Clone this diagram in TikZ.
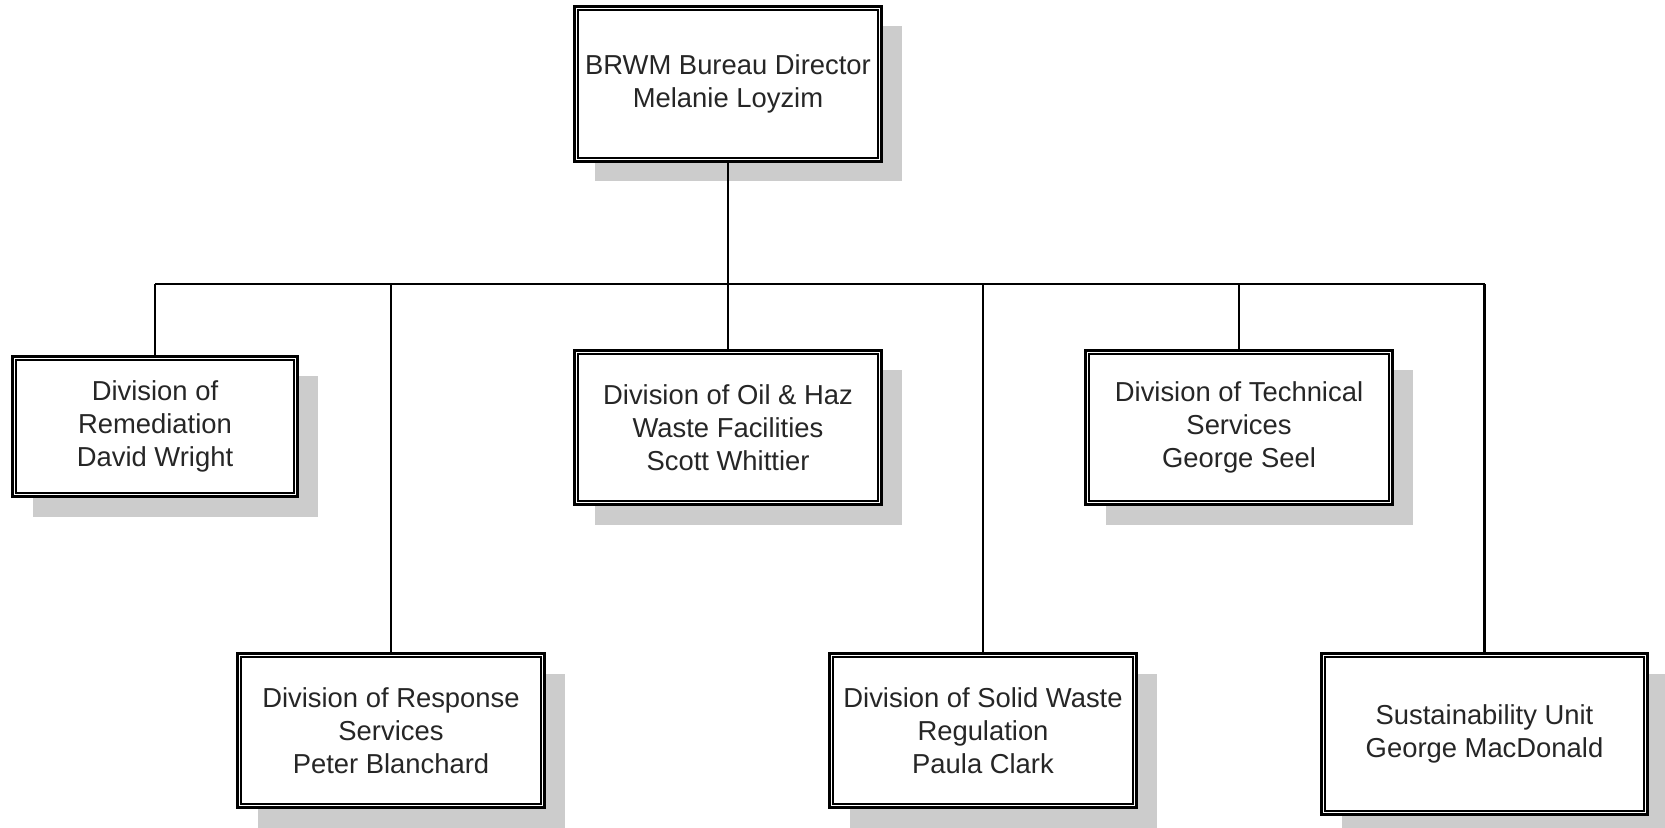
\documentclass[tikz,border=0pt]{standalone}
\usepackage{fontspec}
\setmainfont{Liberation Sans}
\usetikzlibrary{shadows}
\begin{document}
\begin{tikzpicture}[x=0.5pt,y=-0.5pt,
  orgbox/.style={draw=black, line width=1.5pt, fill=white, inner sep=0pt,
    align=center, font=\fontsize{13.7}{16.5}\selectfont, text=black!85,
    drop shadow={shadow xshift=10pt, shadow yshift=-10pt, fill=black!20, opacity=1}},
  innerline/.style={draw=black, line width=1.25pt},
  link/.style={draw=black, line width=1.25pt}]
\fill[white] (0,0) rectangle (1665,828);
\useasboundingbox (0,0) rectangle (1665,828);
% boxes
\node[orgbox, minimum width=153.5pt, minimum height=77.5pt] (top) at (728,84) {BRWM Bureau Director\\Melanie Loyzim};
\node[orgbox, minimum width=142.5pt, minimum height=70pt] (rem) at (155,426.5) {Division of\\Remediation\\David Wright};
\node[orgbox, minimum width=153.5pt, minimum height=77pt] (oil) at (728,427.5) {Division of Oil \& Haz\\Waste Facilities\\Scott Whittier};
\node[orgbox, minimum width=153.5pt, minimum height=77pt] (tech) at (1239,427.5) {Division of Technical\\Services\\George Seel};
\node[orgbox, minimum width=153.5pt, minimum height=77pt] (resp) at (391,730.5) {Division of Response\\Services\\Peter Blanchard};
\node[orgbox, minimum width=153.5pt, minimum height=77pt] (solid) at (983,730.5) {Division of Solid Waste\\Regulation\\Paula Clark};
\node[orgbox, minimum width=163pt, minimum height=80.5pt] (sust) at (1484.5,734) {Sustainability Unit\\George MacDonald};
% inner border lines
\foreach \n in {top,rem,oil,tech,resp,solid,sust}
  \draw[innerline] ([shift={(4.8,4.8)}]\n.north west) rectangle ([shift={(-4.8,-4.8)}]\n.south east);
% connectors
\coordinate (busL) at (rem.north |- 0,284);
\coordinate (busR) at (sust.north |- 0,284);
\draw[link] (busL) -- (busR);
\draw[link] (top.south) -- (top.south |- busL);
\foreach \n in {rem,oil,tech,resp,solid,sust}
  \draw[link] (\n.north) -- (\n.north |- busL);
\end{tikzpicture}
\end{document}
